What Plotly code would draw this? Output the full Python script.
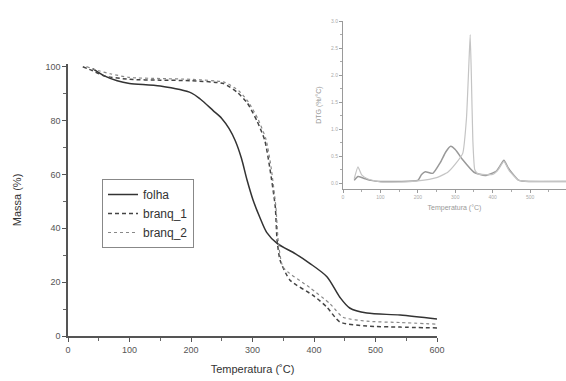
import plotly.graph_objects as go

# ---- TGA data (main chart) ----
t_folha = [40, 60, 80, 100, 150, 201, 215, 236, 250, 262, 272, 282, 291, 301, 312, 323, 340, 370, 393, 421, 442, 458, 486, 540, 600]
m_folha = [99.3, 96.5, 94.8, 93.8, 92.8, 90.2, 88.0, 83.7, 80.8, 77.0, 72.5, 66.0, 58.0, 50.4, 44.0, 38.5, 34.4, 30.5, 27.0, 22.0, 14.4, 10.4, 8.5, 7.8, 6.3]

t_b1 = [24, 40, 60, 100, 150, 200, 253, 275, 291, 307, 320, 328, 337, 340, 345, 361, 399, 421, 442, 486, 540, 600]
m_b1 = [100, 98.5, 96.5, 95.3, 95.0, 94.8, 93.7, 90.5, 86.7, 80.0, 72.6, 62.6, 48.0, 35.5, 28.0, 20.7, 15.0, 10.7, 5.2, 3.7, 3.3, 3.0]

t_b2 = [30, 50, 70, 100, 150, 200, 255, 278, 293, 309, 322, 330, 338, 342, 350, 393, 426, 447, 486, 540, 600]
m_b2 = [100, 98.5, 97.3, 96.0, 95.6, 95.3, 94.2, 91.0, 87.0, 80.5, 73.0, 63.0, 48.0, 35.0, 25.5, 18.0, 12.0, 7.0, 5.5, 5.0, 4.4]

# ---- DTG data (inset) ----
t_dtg_f = [30, 40, 55, 75, 100, 150, 200, 210, 220, 240, 260, 275, 288, 300, 320, 350, 380, 410, 420, 430, 440, 450, 470, 500, 600]
v_dtg_f = [0.05, 0.12, 0.09, 0.05, 0.03, 0.03, 0.05, 0.16, 0.21, 0.18, 0.38, 0.58, 0.68, 0.62, 0.43, 0.2, 0.14, 0.22, 0.32, 0.42, 0.3, 0.2, 0.05, 0.03, 0.03]

t_dtg_b = [30, 40, 50, 65, 100, 150, 200, 250, 280, 300, 320, 330, 337, 340, 343, 347, 352, 360, 400, 415, 430, 445, 470, 500, 600]
v_dtg_b = [0.08, 0.3, 0.15, 0.08, 0.02, 0.02, 0.04, 0.1, 0.2, 0.35, 0.55, 1.2, 2.3, 2.75, 2.0, 0.8, 0.25, 0.17, 0.16, 0.25, 0.4, 0.22, 0.05, 0.03, 0.03]

x_ticks_main = [0, 100, 200, 300, 400, 500, 600]
y_ticks_main = [0, 20, 40, 60, 80, 100]
y_ticks_inset = [0.0, 0.5, 1.0, 1.5, 2.0, 2.5, 3.0]
y_ticklabels_inset = ["0.0", "0.5", "1.0", "1.5", "2.0", "2.5", "3.0"]

W, H = 566, 381
FONT = "Liberation Sans, Arial, sans-serif"

fig = go.Figure()
fig.add_trace(go.Scatter(x=t_folha, y=m_folha, mode="lines", name="folha",
                         line=dict(color="#333333", width=1.5, shape="spline", smoothing=0.8)))
fig.add_trace(go.Scatter(x=t_b1, y=m_b1, mode="lines", name="branq_1",
                         line=dict(color="#444444", width=1.5, dash="4px,3px", shape="spline", smoothing=0.6)))
fig.add_trace(go.Scatter(x=t_b2, y=m_b2, mode="lines", name="branq_2",
                         line=dict(color="#888888", width=1.2, dash="dot", shape="spline", smoothing=0.6)))

fig.add_trace(go.Scatter(x=t_dtg_f, y=v_dtg_f, mode="lines", showlegend=False,
                         xaxis="x2", yaxis="y2",
                         line=dict(color="#999999", width=1.5, shape="spline", smoothing=0.5)))
fig.add_trace(go.Scatter(x=t_dtg_b, y=v_dtg_b, mode="lines", showlegend=False,
                         xaxis="x2", yaxis="y2",
                         line=dict(color="#c4c4c4", width=1.2, shape="spline", smoothing=0.4)))

axis_common = dict(showgrid=False, zeroline=False, showline=True, ticks="outside",
                   mirror=False, automargin=False)

fig.update_layout(
    template="none",
    width=W, height=H,
    margin=dict(l=0, r=0, t=0, b=0, pad=0),
    paper_bgcolor="white", plot_bgcolor="rgba(0,0,0,0)",
    font=dict(family=FONT, color="#333333"),
    xaxis=dict(**axis_common, domain=[68 / W, 437 / W], range=[0, 600],
               tickvals=x_ticks_main, linecolor="#555555", linewidth=1.5,
               tickcolor="#555555", ticklen=4, tickfont=dict(size=9, color="#555555"),
               minor=dict(dtick=50, ticks="outside", ticklen=3, tickcolor="#666666"),
               title=dict(text="Temperatura (˚C)", font=dict(size=11, color="#333333"), standoff=12)),
    yaxis=dict(**axis_common, domain=[(H - 336) / H, (H - 64) / H], range=[0, 101],
               tickvals=y_ticks_main, linecolor="#555555", linewidth=1.5,
               tickcolor="#555555", ticklen=4, tickfont=dict(size=9, color="#555555"),
               minor=dict(dtick=10, ticks="outside", ticklen=3, tickcolor="#666666"),
               title=dict(text="Massa (%)", font=dict(size=11, color="#333333"), standoff=22)),
    xaxis2=dict(**axis_common, domain=[343 / W, 1.0], range=[0, 596], anchor="y2",
                tickvals=x_ticks_main, linecolor="#9a9a9a", linewidth=1,
                tickcolor="#9a9a9a", ticklen=3, tickfont=dict(size=5, color="#aaaaaa"),
                minor=dict(dtick=50, ticks="outside", ticklen=2, tickcolor="#aaaaaa"),
                title=dict(text="Temperatura (°C)", font=dict(size=7, color="#999999"), standoff=6)),
    yaxis2=dict(**axis_common, domain=[(H - 189) / H, (H - 21) / H], range=[-0.11, 3.0], anchor="x2",
                tickvals=y_ticks_inset, ticktext=y_ticklabels_inset, linecolor="#9a9a9a", linewidth=1,
                tickcolor="#9a9a9a", ticklen=3, tickfont=dict(size=5, color="#aaaaaa"),
                minor=dict(dtick=0.25, ticks="outside", ticklen=2, tickcolor="#aaaaaa"),
                title=dict(text="DTG (%/°C)", font=dict(size=7, color="#999999"), standoff=8)),
    legend=dict(x=102 / W, y=(H - 179) / H, xanchor="left", yanchor="top",
                bordercolor="#888888", borderwidth=1, bgcolor="white",
                font=dict(size=12, color="#333333"), tracegroupgap=0,
                itemwidth=30),
    showlegend=True,
)

fig.write_html("out.html",
               config={"displayModeBar": False},
               post_script="document.body.style.margin='0';document.body.style.overflow='hidden';")
